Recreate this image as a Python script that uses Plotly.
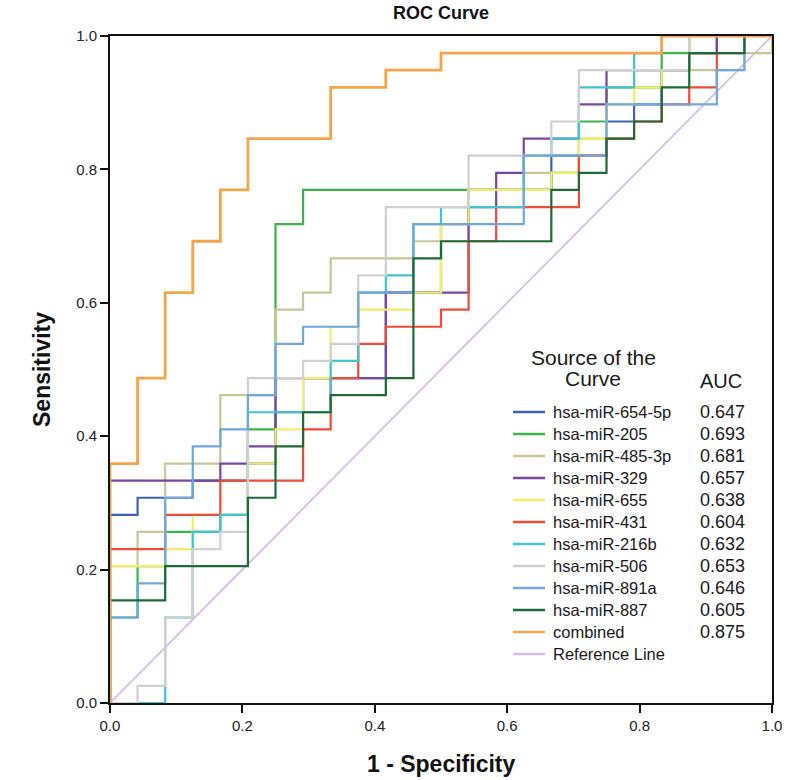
import plotly.graph_objects as go

# ---- data: ROC step vertices as (false-positive count, true-positive count) ----
N_NEG = 24
N_POS = 39

series_names = ["hsa-miR-654-5p", "hsa-miR-205", "hsa-miR-485-3p", "hsa-miR-329",
                "hsa-miR-655", "hsa-miR-431", "hsa-miR-216b", "hsa-miR-506",
                "hsa-miR-891a", "hsa-miR-887", "combined", "Reference Line"]
auc_values = ["0.647", "0.693", "0.681", "0.657", "0.638", "0.604",
              "0.632", "0.653", "0.646", "0.605", "0.875", ""]

fp_654 = [0, 0, 1, 1, 3, 3, 5, 5, 6, 6, 7, 7, 10, 10, 12, 12, 13, 13, 16, 16, 18, 18, 19, 19, 20, 20, 21, 21, 22, 22, 24]
tp_654 = [0, 11, 11, 12, 12, 13, 13, 14, 14, 17, 17, 19, 19, 24, 24, 28, 28, 30, 30, 32, 32, 34, 34, 35, 35, 37, 37, 38, 38, 39, 39]

fp_205 = [0, 0, 1, 1, 2, 2, 4, 4, 5, 5, 6, 6, 7, 7, 16, 16, 17, 17, 18, 18, 20, 20, 21, 21, 24]
tp_205 = [0, 5, 5, 8, 8, 10, 10, 11, 11, 16, 16, 28, 28, 30, 30, 31, 31, 34, 34, 36, 36, 38, 38, 39, 39]

fp_485 = [0, 0, 1, 1, 2, 2, 4, 4, 6, 6, 7, 7, 8, 8, 11, 11, 13, 13, 15, 15, 17, 17, 18, 18, 19, 19, 23, 23, 24, 24]
tp_485 = [0, 8, 8, 10, 10, 14, 14, 18, 18, 23, 23, 24, 24, 26, 26, 27, 27, 30, 30, 31, 31, 33, 33, 36, 36, 37, 37, 38, 38, 39]

fp_329 = [0, 0, 4, 4, 5, 5, 6, 6, 10, 10, 13, 13, 14, 14, 15, 15, 17, 17, 18, 18, 21, 21, 22, 22, 24]
tp_329 = [0, 13, 13, 14, 14, 15, 15, 19, 19, 24, 24, 29, 29, 31, 31, 33, 33, 35, 35, 37, 37, 38, 38, 39, 39]

fp_655 = [0, 0, 2, 2, 3, 3, 5, 5, 6, 6, 7, 7, 8, 8, 9, 9, 11, 11, 12, 12, 13, 13, 16, 16, 17, 17, 18, 18, 19, 19, 20, 20, 21, 21, 24]
tp_655 = [0, 8, 8, 9, 9, 11, 11, 14, 14, 16, 16, 19, 19, 22, 22, 23, 23, 24, 24, 28, 28, 30, 30, 31, 31, 33, 33, 35, 35, 36, 36, 37, 37, 39, 39]

fp_431 = [0, 0, 2, 2, 4, 4, 7, 7, 8, 8, 9, 9, 10, 10, 12, 12, 13, 13, 14, 14, 17, 17, 18, 18, 19, 19, 20, 20, 21, 21, 22, 22, 23, 23, 24]
tp_431 = [0, 9, 9, 11, 11, 13, 13, 16, 16, 19, 19, 21, 21, 22, 22, 23, 23, 27, 27, 29, 29, 32, 32, 33, 33, 34, 34, 35, 35, 36, 36, 38, 38, 39, 39]

fp_216 = [0, 2, 2, 3, 3, 4, 4, 5, 5, 8, 8, 9, 9, 10, 10, 11, 11, 12, 12, 15, 15, 16, 16, 17, 17, 19, 19, 20, 20, 24]
tp_216 = [0, 0, 5, 5, 10, 10, 11, 11, 17, 17, 20, 20, 24, 24, 25, 25, 28, 28, 29, 29, 32, 32, 33, 33, 36, 36, 38, 38, 39, 39]

fp_506 = [0, 1, 1, 2, 2, 3, 3, 4, 4, 5, 5, 7, 7, 8, 8, 9, 9, 10, 10, 13, 13, 16, 16, 17, 17, 21, 21, 24]
tp_506 = [0, 0, 1, 1, 5, 5, 9, 9, 10, 10, 19, 19, 20, 20, 21, 21, 25, 25, 29, 29, 32, 32, 34, 34, 37, 37, 39, 39]

fp_891 = [0, 0, 1, 1, 2, 2, 3, 3, 4, 4, 5, 5, 6, 6, 7, 7, 9, 9, 11, 11, 15, 15, 18, 18, 22, 22, 23, 23, 24]
tp_891 = [0, 5, 5, 7, 7, 12, 12, 15, 15, 16, 16, 18, 18, 21, 21, 22, 22, 24, 24, 28, 28, 32, 32, 35, 35, 37, 37, 39, 39]

fp_887 = [0, 0, 2, 2, 5, 5, 6, 6, 7, 7, 8, 8, 10, 10, 11, 11, 12, 12, 16, 16, 17, 17, 18, 18, 19, 19, 20, 20, 21, 21, 23, 23, 24]
tp_887 = [0, 6, 6, 8, 8, 12, 12, 15, 15, 17, 17, 18, 18, 19, 19, 26, 26, 27, 27, 30, 30, 31, 31, 33, 33, 34, 34, 36, 36, 38, 38, 39, 39]

fp_comb = [0, 0, 1, 1, 2, 2, 3, 3, 4, 4, 5, 5, 8, 8, 10, 10, 12, 12, 20, 20, 24]
tp_comb = [0, 14, 14, 19, 19, 24, 24, 27, 27, 30, 30, 33, 33, 36, 36, 37, 37, 38, 38, 39, 39]

ref_x = [0, 1]
ref_y = [0, 1]

colors = ["#3b62b5", "#3cb44b", "#c6c696", "#7a47a0", "#f2ee6a", "#ee4b3b",
          "#41c3d0", "#d0d0d0", "#70a8dc", "#1d6a34", "#f6a44a", "#d6bde8"]

curves = [(fp_654, tp_654), (fp_205, tp_205), (fp_485, tp_485), (fp_329, tp_329),
          (fp_655, tp_655), (fp_431, tp_431), (fp_216, tp_216), (fp_506, tp_506),
          (fp_891, tp_891), (fp_887, tp_887), (fp_comb, tp_comb)]

# ---- geometry (page pixels; body margin removed by post_script) ----
W, H = 800, 780
BOX_L, BOX_R, BOX_T, BOX_B = 110, 772, 36, 703   # plot box in page pixels
ML, MT = BOX_L, BOX_T
MR, MB = W - BOX_R, H - BOX_B
PW, PH = BOX_R - BOX_L, BOX_B - BOX_T


def px(xp):
    return (xp - BOX_L) / PW


def py(yp):
    return (BOX_B - yp) / PH


fig = go.Figure()

fig.add_trace(go.Scatter(x=ref_x, y=ref_y, mode="lines",
                         line=dict(color=colors[11], width=1.8),
                         hoverinfo="skip", showlegend=False))

for i, (fp, tp) in enumerate(curves):
    fig.add_trace(go.Scatter(
        x=[v / N_NEG for v in fp], y=[v / N_POS for v in tp],
        mode="lines", name=series_names[i],
        line=dict(color=colors[i], width=2.8 if i == 10 else 2.2),
        showlegend=False))

ann = []
shapes = []
font_txt = "Liberation Sans, Arial, sans-serif"

ann.append(dict(x=px(593), y=py(357), xref="paper", yref="paper", text="Source of the",
                showarrow=False, xanchor="center", yanchor="middle",
                font=dict(family=font_txt, size=21, color="#1a1a1a")))
ann.append(dict(x=px(593), y=py(379), xref="paper", yref="paper", text="Curve",
                showarrow=False, xanchor="center", yanchor="middle",
                font=dict(family=font_txt, size=21, color="#1a1a1a")))
ann.append(dict(x=px(721), y=py(381), xref="paper", yref="paper", text="AUC",
                showarrow=False, xanchor="center", yanchor="middle",
                font=dict(family=font_txt, size=20, color="#1a1a1a")))

row0, dy = 412, 22
for i, name in enumerate(series_names):
    yy = row0 + dy * i
    shapes.append(dict(type="line", xref="paper", yref="paper",
                       x0=px(513), x1=px(545), y0=py(yy), y1=py(yy),
                       line=dict(color=colors[i], width=2.5)))
    ann.append(dict(x=px(551), y=py(yy), xref="paper", yref="paper", text=name,
                    showarrow=False, xanchor="left", yanchor="middle",
                    font=dict(family=font_txt, size=16.5, color="#1a1a1a")))
    if auc_values[i]:
        ann.append(dict(x=px(698), y=py(yy), xref="paper", yref="paper", text=auc_values[i],
                        showarrow=False, xanchor="left", yanchor="middle",
                        font=dict(family=font_txt, size=18, color="#1a1a1a")))

ann.append(dict(x=px(441), y=py(764), xref="paper", yref="paper", text="<b>1 - Specificity</b>",
                showarrow=False, xanchor="center", yanchor="middle",
                font=dict(family=font_txt, size=23, color="#111")))
ann.append(dict(x=px(42), y=py(370), xref="paper", yref="paper", text="<b>Sensitivity</b>",
                showarrow=False, xanchor="center", yanchor="middle", textangle=-90,
                font=dict(family=font_txt, size=23, color="#111")))
ann.append(dict(x=px(441), y=py(13), xref="paper", yref="paper", text="<b>ROC Curve</b>",
                showarrow=False, xanchor="center", yanchor="middle",
                font=dict(family=font_txt, size=18, color="#111")))

axis_common = dict(range=[0, 1], showgrid=False, zeroline=False, showline=True,
                   mirror=True, linecolor="#111", linewidth=2, ticks="outside",
                   ticklen=8, tickwidth=2, tickcolor="#111",
                   tickvals=[0, 0.2, 0.4, 0.6, 0.8, 1.0],
                   ticktext=["0.0", "0.2", "0.4", "0.6", "0.8", "1.0"],
                   tickfont=dict(family=font_txt, size=15, color="#222"))

fig.update_layout(
    width=W, height=H,
    margin=dict(l=ML, r=MR, t=MT, b=MB, autoexpand=False),
    paper_bgcolor="white", plot_bgcolor="white",
    xaxis=axis_common, yaxis=axis_common,
    annotations=ann, shapes=shapes, showlegend=False,
)

fig.write_html("out.html",
               config={"displayModeBar": False},
               post_script="document.body.style.margin='0px';document.body.style.overflow='hidden';")
